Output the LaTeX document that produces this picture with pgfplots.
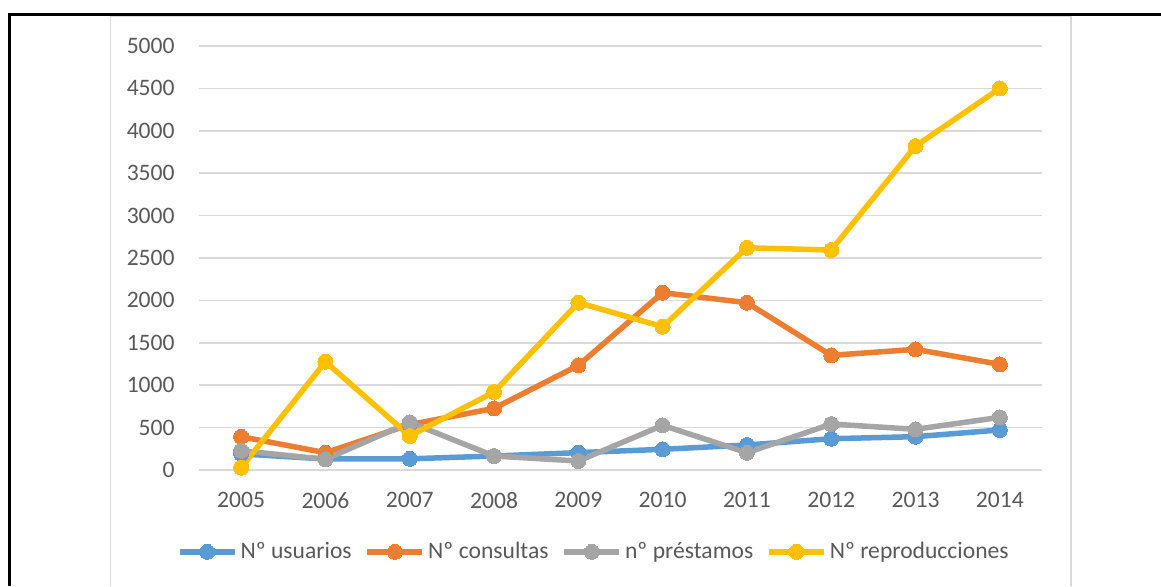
\documentclass[border=0pt]{standalone}
\usepackage{fontspec}
\setmainfont{Carlito}
\usepackage{pgfplots}
\pgfplotsset{compat=1.18}
\definecolor{cBlue}{HTML}{5B9BD5}
\definecolor{cOrange}{HTML}{ED7D31}
\definecolor{cGray}{HTML}{A5A5A5}
\definecolor{cGold}{HTML}{FFC000}
\definecolor{cGrid}{HTML}{D9D9D9}
\definecolor{cText}{HTML}{595959}
\newcommand{\lblfont}{\fontsize{11.8}{14}\selectfont}
\begin{document}
\begin{tikzpicture}
\useasboundingbox (0,0) rectangle (580.5pt,293pt);
% outer frame (top and left only)
\draw[line width=1.5pt] (4.75pt,0) -- (4.75pt,285.75pt) -- (580.5pt,285.75pt);
% chart area frame
\draw[cGrid, line width=0.6pt] (55.25pt,0) -- (55.25pt,284.75pt) -- (535.5pt,284.75pt) -- (535.5pt,0);

\begin{axis}[
at={(99.5pt,58pt)},
anchor=south west,
scale only axis,
width=421.5pt,
height=212pt,
xmin=-0.5, xmax=9.5,
ymin=0, ymax=5000,
xtick={0,...,9},
xticklabels={2005,2006,2007,2008,2009,2010,2011,2012,2013,2014},
ytick={0,500,...,5000},
ymajorgrids,
grid style={cGrid, line width=0.75pt},
axis line style={draw=none},
major tick length=0pt,
tick label style={font=\lblfont, text=cText},
/pgf/number format/assume math mode=true,
/pgf/number format/set thousands separator={},
scaled y ticks=false,
yticklabel style={anchor=east, inner sep=0pt, xshift=-12pt},
xticklabel style={anchor=north, inner sep=0pt, yshift=-11pt},
clip=false,
legend columns=4,
legend cell align=left,
legend style={at={(0.469,-0.193)}, anchor=center, draw=none, fill=none,
  font=\lblfont, text=cText, inner sep=0pt,
  nodes={inner xsep=1.5pt, inner ysep=1pt},
  /tikz/every even column/.append style={column sep=5pt}},
legend image code/.code={\draw[mark repeat=2, mark phase=2, #1]
  plot coordinates {(0pt,0pt) (13.75pt,0pt) (27.5pt,0pt)};},
every axis plot/.append style={line width=2.75pt, line join=round, mark=*, mark size=3.75pt},
]

\addplot[color=cBlue, mark options={fill=cBlue, draw=cBlue, line width=0pt}]
coordinates {(0,190)(1,130)(2,132)(3,165)(4,205)(5,244)(6,295)(7,369)(8,393)(9,472)};
\addlegendentry{Nº usuarios}

\addplot[color=cOrange, mark options={fill=cOrange, draw=cOrange, line width=0pt}]
coordinates {(0,393)(1,204)(2,535)(3,727)(4,1234)(5,2091)(6,1973)(7,1352)(8,1423)(9,1246)};
\addlegendentry{Nº consultas}

\addplot[color=cGray, mark options={fill=cGray, draw=cGray, line width=0pt}]
coordinates {(0,228)(1,126)(2,562)(3,165)(4,106)(5,527)(6,204)(7,542)(8,480)(9,621)};
\addlegendentry{nº préstamos}

\addplot[color=cGold, mark options={fill=cGold, draw=cGold, line width=0pt}]
coordinates {(0,27)(1,1277)(2,401)(3,920)(4,1973)(5,1690)(6,2621)(7,2594)(8,3820)(9,4500)};
\addlegendentry{Nº reproducciones}

\end{axis}
\end{tikzpicture}
\end{document}
